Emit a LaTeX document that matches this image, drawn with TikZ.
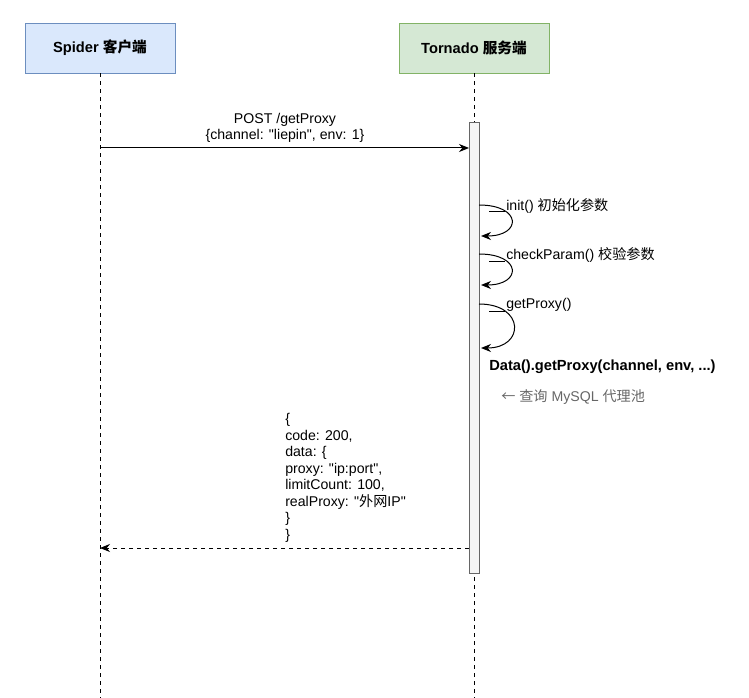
\documentclass[tikz,border=0pt]{standalone}
\usepackage{fontspec}
\setmainfont{Liberation Sans}[Ligatures=TeXOff]
\newfontfamily\cjk{Noto Sans CJK SC}
\usetikzlibrary{arrows.meta}
\definecolor{bluefill}{HTML}{DAE8FC}
\definecolor{bluedraw}{HTML}{6C8EBF}
\definecolor{greenfill}{HTML}{D5E8D4}
\definecolor{greendraw}{HTML}{82B366}
\definecolor{barfill}{HTML}{F5F5F5}
\definecolor{bardraw}{HTML}{666666}
\definecolor{notegrey}{HTML}{666666}
\tikzset{
  actor/.style={draw, minimum width=112.5pt, minimum height=37.5pt, font=\bfseries\fontsize{11}{13}\selectfont, inner sep=0pt},
  lifeline/.style={dashed, dash pattern=on 3pt off 3pt, line width=0.75pt},
  msg/.style={line width=0.75pt, -{Stealth[length=7.5pt,width=6pt]}},
  ret/.style={msg, dashed, dash pattern=on 3pt off 3pt},
  lbl/.style={font=\fontsize{10.6}{12.4}\selectfont, inner sep=0pt},
}
\begin{document}
\begin{tikzpicture}[x=0.75pt,y=-0.75pt]
\useasboundingbox (0,0) rectangle (749,698);
% actors
\node[actor, fill=bluefill, draw=bluedraw] (spider) at (100,48) {Spider {\cjk 客户端}};
\node[actor, fill=greenfill, draw=greendraw] (tornado) at (474,48) {Tornado {\cjk 服务端}};
\coordinate (sEnd) at (100,698);
\coordinate (tEnd) at (474,698);
\draw[lifeline] (spider.south) -- (sEnd);
\draw[lifeline] (tornado.south) -- (tEnd);
% activation bar
\node[draw=bardraw, fill=barfill, line width=0.75pt, minimum width=7.5pt, minimum height=337.5pt, inner sep=0pt] (bar) at (474,348) {};
% request
\coordinate (reqS) at (100,148);
\coordinate (reqE) at (469,148);
\draw[msg] (reqS) -- (reqE);
\node[lbl, align=center, font=\fontsize{10.6}{12}\selectfont] (reqL) at (285,128) {POST /getProxy\\\{channel: "liepin", env: 1\}};
% self loops
\coordinate (l1s) at (479,205); \coordinate (l1e) at (481,236);
\draw[msg] (l1s) .. controls (522,205) and (522,236) .. (l1e);
\coordinate (m1a) at (489,212); \coordinate (m1b) at (505,212);
\draw[line width=0.75pt] (m1a) -- (m1b);
\node[lbl, anchor=west] (t1) at (506,206) {init() {\cjk 初始化参数}};
\coordinate (l2s) at (479,254); \coordinate (l2e) at (481,285);
\draw[msg] (l2s) .. controls (522,254) and (522,285) .. (l2e);
\coordinate (m2a) at (489,262); \coordinate (m2b) at (505,262);
\draw[line width=0.75pt] (m2a) -- (m2b);
\node[lbl, anchor=west] (t2) at (506,255) {checkParam() {\cjk 校验参数}};
\coordinate (l3s) at (479,304); \coordinate (l3e) at (481,348);
\draw[msg] (l3s) .. controls (525,304) and (525,348) .. (l3e);
\coordinate (m3a) at (489,312); \coordinate (m3b) at (505,312);
\draw[line width=0.75pt] (m3a) -- (m3b);
\node[lbl, anchor=west] (t3) at (506,305) {getProxy()};
\node[lbl, anchor=west, font=\bfseries\fontsize{11}{13}\selectfont] (data) at (489,367) {Data().getProxy(channel, env, ...)};
\node[lbl, anchor=west, text=notegrey] (note) at (501,397) {{\cjk ←} {\cjk 查询} MySQL {\cjk 代理池}};
% response
\coordinate (resS) at (469,548);
\coordinate (resE) at (100,548);
\draw[ret] (resS) -- (resE);
\node[lbl, anchor=north west, align=left] (resL) at (285,413) {\{\\code: 200,\\data: \{\\proxy: "ip:port",\\limitCount: 100,\\realProxy: "{\cjk 外网}IP"\\\}\\\}};
\end{tikzpicture}
\end{document}
